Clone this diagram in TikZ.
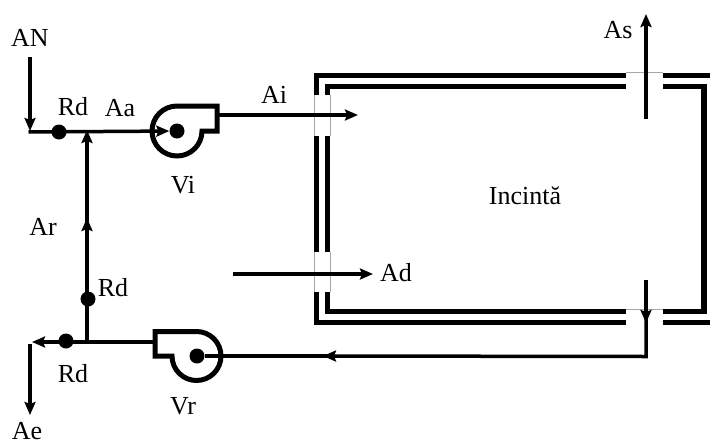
\documentclass[tikz,border=0pt]{standalone}
\usepackage{fontspec}
\setmainfont{Liberation Serif}
\usetikzlibrary{arrows.meta}
\tikzset{
  wall/.style={line width=5pt},
  gap/.style={line width=1pt,gray!70},
  pipe/.style={line width=3.5pt},
  flow/.style={line width=3.5pt,-{Stealth[length=13pt,width=11pt,inset=2pt]}},
  fan/.style={line width=5pt,line join=miter},
  hub/.style={circle,fill=black,minimum size=15pt,inner sep=0pt},
  rdot/.style={circle,fill=black,minimum size=15pt,inner sep=0pt},
  lbl/.style={inner sep=0pt,font=\fontsize{26}{30}\selectfont}
}
\begin{document}
\begin{tikzpicture}[x=1pt,y=-1pt]
    \useasboundingbox (0,0) rectangle (710,445);
       \draw[wall] (626,75) -- (316.5,75) -- (316.5,95);
       \draw[wall] (316.5,136) -- (316.5,252);
       \draw[wall] (316.5,292) -- (316.5,322.5) -- (626,322.5);
       \draw[wall] (663,322.5) -- (710,322.5);
       \draw[wall] (663,75) -- (710,75);
       \draw[wall] (626,86.5) -- (327.5,86.5) -- (327.5,95);
       \draw[wall] (327.5,136) -- (327.5,252);
       \draw[wall] (327.5,292) -- (327.5,311.5) -- (626,311.5);
       \draw[wall] (663,311.5) -- (704,311.5) -- (704,86.5) -- (663,86.5);
       \draw[line width=6pt] (704,86.5) -- (704,311.5);
       \draw[gap] (314,95) -- (314,136);
       \draw[gap] (330,95) -- (330,136);
       \draw[gap] (314,252) -- (314,292);
       \draw[gap] (330,252) -- (330,292);
       \draw[gap] (626,72.5) -- (663,72.5);
       \draw[gap] (626,309) -- (663,309);

       \node[lbl] (an) at (30,38) {AN};
       \node[lbl] (rdtop) at (73,107) {Rd};
       \node[lbl] (aa) at (120,108) {Aa};
       \node[lbl] (vilabel) at (183,185) {Vi};
       \node[lbl] (ailabel) at (274,95) {Ai};
       \node[lbl] (ar) at (43,227) {Ar};
       \node[lbl] (rdmid) at (113,288) {Rd};
       \node[lbl] (rdlow) at (73,374) {Rd};
       \node[lbl] (vrlabel) at (183,406) {Vr};
       \node[lbl] (ae) at (27,431) {Ae};
       \node[lbl] (adlabel) at (396,273) {Ad};
       \node[lbl] (as) at (618,30) {As};
       \node[lbl] (incinta) at (525,196) {Incintă};

       \node[hub] (vi) at (177,131) {};
       \node[hub] (vr) at (197,356) {};
       \node[rdot] (d1) at (59,132) {};
       \node[rdot] (d2) at (88,299) {};
       \node[rdot] (d3) at (66,341) {};

       \coordinate (anstart) at (30,57);
       \coordinate (anend) at (30,131);
       \coordinate (inlet) at (28.5,132);
       \coordinate (tee) at (87,342);
       \coordinate (arhead) at (87,218);
       \coordinate (arnext) at (87,224);
       \coordinate (artip) at (87,130);
       \coordinate (vrbox) at (155,342);
       \coordinate (aecorner) at (32,342);
       \coordinate (aestart) at (30,344);
       \coordinate (aetip) at (30,415);
       \coordinate (vibox) at (217,115);
       \coordinate (aitip) at (358,115);
       \coordinate (adstart) at (233,274);
       \coordinate (adtip) at (373,274);
       \coordinate (asstart) at (646,119);
       \coordinate (astip) at (646,14);
       \coordinate (retstart) at (646,280);
       \coordinate (rethead) at (646,323);
       \coordinate (retnext) at (646,315);
       \coordinate (retcorner) at (646,356.5);
       \coordinate (rettip) at (323,356);
       \coordinate (retlast) at (330,356);

       \draw[fan] (202,131) arc[start angle=0,end angle=270,radius=25] -- (217,106) -- (217,131) -- cycle;
       \draw[fan] (172,356) arc[start angle=180,end angle=-90,radius=24.5] -- (155,331.5) -- (155,356) -- cycle;

       \draw[flow] (anstart) -- (anend);
       \draw[flow] (inlet) -- (vi);
       \draw[flow] (tee) -- (arhead);
       \draw[flow] (arnext) -- (artip);
       \draw[flow] (vrbox) -- (aecorner);
       \draw[flow] (aestart) -- (aetip);
       \draw[flow] (vibox) -- (aitip);
       \draw[flow] (adstart) -- (adtip);
       \draw[flow] (asstart) -- (astip);
       \draw[flow] (retstart) -- (rethead);
       \draw[flow] (retnext) -- (retcorner) -- (rettip);
       \draw[pipe] (retlast) -- (vr);
    \end{tikzpicture}
\end{document}
